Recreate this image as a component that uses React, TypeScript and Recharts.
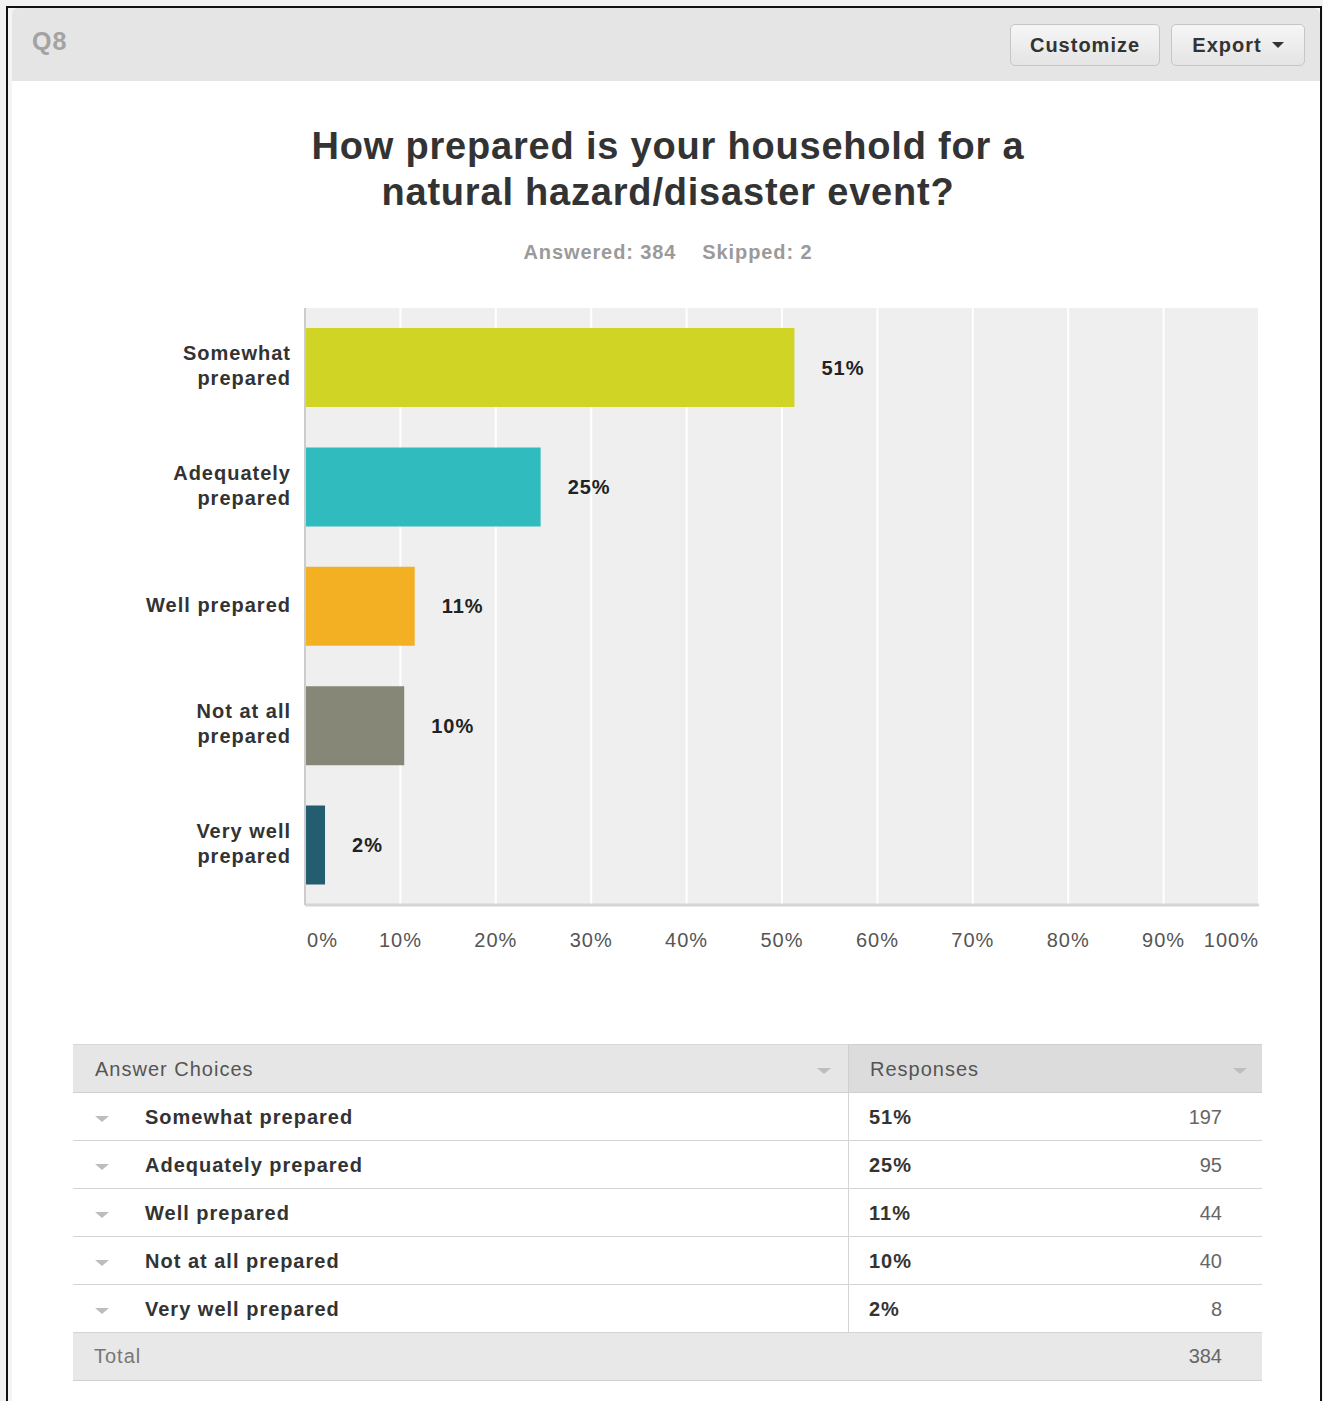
import React from "react";
import {
  BarChart,
  Bar,
  XAxis,
  YAxis,
  CartesianGrid,
  Cell,
  LabelList,
} from "recharts";

// answer choices, top to bottom
const choices = [
  "Somewhat prepared",
  "Adequately prepared",
  "Well prepared",
  "Not at all prepared",
  "Very well prepared",
];
// wrapped labels as shown on the chart axis
const axisLines = [
  ["Somewhat", "prepared"],
  ["Adequately", "prepared"],
  ["Well prepared"],
  ["Not at all", "prepared"],
  ["Very well", "prepared"],
];
const shares = [51.3, 24.7, 11.5, 10.4, 2.1];
const shareLabels = ["51%", "25%", "11%", "10%", "2%"];
const counts = [197, 95, 44, 40, 8];
const barColors = ["#cfd425", "#30bcbf", "#f4b023", "#878778", "#245d6f"];
const xTicks = [0, 10, 20, 30, 40, 50, 60, 70, 80, 90, 100];

const totalAnswered = 384;
const totalSkipped = 2;

const FONT = "Arial, 'Liberation Sans', Helvetica, sans-serif";
const LS = 1;

const chartData = choices.map((name, i) => ({
  name,
  share: shares[i],
  label: shareLabels[i],
}));

function CategoryTick(props: any) {
  const { x, y, payload } = props;
  const idx = choices.indexOf(payload.value);
  const lines = axisLines[idx] || [payload.value];
  const start = -((lines.length - 1) * 25) / 2 - 2;
  return (
    <text
      x={x}
      y={y}
      textAnchor="end"
      fontFamily={FONT}
      fontSize={20}
      fontWeight="bold"
      fill="#333"
      letterSpacing={LS}
    >
      {lines.map((l, i) => (
        <tspan key={i} x={x} y={y + start + i * 25} dy="0.35em">
          {l}
        </tspan>
      ))}
    </text>
  );
}

function PercentTick(props: any) {
  const { x, y, payload } = props;
  const v = payload.value;
  const anchor = v === 0 ? "start" : v === 100 ? "end" : "middle";
  return (
    <text
      x={v === 0 ? x + 2 : x}
      y={y + 42}
      textAnchor={anchor}
      fontFamily={FONT}
      fontSize={20}
      fill="#555"
      letterSpacing={LS}
    >
      {v}%
    </text>
  );
}

function Caret({ x, y }: { x: number; y: number }) {
  return (
    <div
      style={{
        position: "absolute",
        left: x,
        top: y,
        width: 0,
        height: 0,
        borderLeft: "7px solid transparent",
        borderRight: "7px solid transparent",
        borderTop: "6px solid #bdbdbd",
      }}
    />
  );
}

function Button({ left, width, children }: any) {
  return (
    <div
      style={{
        position: "absolute",
        left,
        top: 24,
        width,
        height: 42,
        boxSizing: "border-box",
        border: "1px solid #c6c6c6",
        borderRadius: 5,
        background: "linear-gradient(#f6f6f6, #e4e4e4)",
        fontFamily: FONT,
        fontWeight: "bold",
        fontSize: 20,
        letterSpacing: LS,
        color: "#333",
        display: "flex",
        alignItems: "center",
        justifyContent: "center",
        gap: 10,
      }}
    >
      {children}
    </div>
  );
}

export default function App() {
  const rowTop = 1093;
  const rowH = 48;
  const cell = { position: "absolute" as const, fontSize: 20, letterSpacing: LS };
  return (
    <div
      style={{
        position: "absolute",
        left: 0,
        top: 0,
        width: 1323,
        height: 1401,
        overflow: "hidden",
        background: "#f2f2f2",
        fontFamily: FONT,
      }}
    >
      {/* frame */}
      <div
        style={{
          position: "absolute",
          left: 6,
          top: 6,
          width: 1316,
          height: 1420,
          border: "2px solid #111",
          boxSizing: "border-box",
          background: "#f4f4f4",
        }}
      />
      {/* panel */}
      <div
        style={{
          position: "absolute",
          left: 12,
          top: 8,
          width: 1308,
          height: 1410,
          background: "#fff",
          borderRadius: "6px 6px 0 0",
        }}
      />
      {/* header bar */}
      <div
        style={{
          position: "absolute",
          left: 12,
          top: 8,
          width: 1308,
          height: 73,
          background: "#e5e5e5",
          borderRadius: "6px 6px 0 0",
        }}
      />
      <div
        style={{
          position: "absolute",
          left: 32,
          top: 27,
          fontSize: 25,
          fontWeight: "bold",
          letterSpacing: LS,
          color: "#a3a3a3",
        }}
      >
        Q8
      </div>
      <Button left={1010} width={150}>
        Customize
      </Button>
      <Button left={1171} width={134}>
        <span>Export</span>
        <span
          style={{
            width: 0,
            height: 0,
            borderLeft: "6px solid transparent",
            borderRight: "6px solid transparent",
            borderTop: "6px solid #333",
          }}
        />
      </Button>

      {/* title */}
      <div
        style={{
          position: "absolute",
          left: 12,
          top: 123,
          width: 1312,
          textAlign: "center",
          fontSize: 38,
          fontWeight: "bold",
          letterSpacing: 0.8,
          color: "#333",
          lineHeight: "46px",
        }}
      >
        How prepared is your household for a
        <br />
        natural hazard/disaster event?
      </div>
      <div
        style={{
          position: "absolute",
          left: 12,
          top: 241,
          width: 1312,
          textAlign: "center",
          fontSize: 20,
          fontWeight: "bold",
          letterSpacing: 0.9,
          color: "#9a9a9a",
        }}
      >
        Answered: {totalAnswered}
        <span style={{ display: "inline-block", width: 26 }} />
        Skipped: {totalSkipped}
      </div>

      {/* chart */}
      <div style={{ position: "absolute", left: 0, top: 0 }}>
        <BarChart
          width={1323}
          height={965}
          data={chartData}
          layout="vertical"
          margin={{ top: 308, right: 64, bottom: 0, left: 5 }}
        >
          <CartesianGrid
            horizontal={false}
            stroke="#ffffff"
            strokeWidth={2}
            fill="#efefef"
          />
          <XAxis
            type="number"
            domain={[0, 100]}
            ticks={xTicks}
            height={60}
            tickLine={false}
            tickSize={0}
            tickMargin={0}
            axisLine={{ stroke: "#d5d5d5", strokeWidth: 3 }}
            tick={<PercentTick />}
            interval={0}
          />
          <YAxis
            type="category"
            dataKey="name"
            width={300}
            tickLine={false}
            tickSize={0}
            tickMargin={14}
            axisLine={{ stroke: "#cccccc", strokeWidth: 2 }}
            tick={<CategoryTick />}
            interval={0}
          />
          <Bar dataKey="share" barSize={79} isAnimationActive={false}>
            {chartData.map((d, i) => (
              <Cell key={d.name} fill={barColors[i]} />
            ))}
            <LabelList
              dataKey="label"
              position="right"
              offset={27}
              fill="#222"
              fontFamily={FONT}
              fontSize={20}
              fontWeight="bold"
              letterSpacing={LS}
            />
          </Bar>
        </BarChart>
      </div>

      {/* table */}
      <div
        style={{
          position: "absolute",
          left: 73,
          top: 1044,
          width: 775,
          height: 49,
          background: "#e6e6e6",
          borderTop: "1px solid #d6d6d6",
          borderBottom: "1px solid #cfcfcf",
          boxSizing: "border-box",
        }}
      />
      <div
        style={{
          position: "absolute",
          left: 848,
          top: 1044,
          width: 414,
          height: 49,
          background: "#dcdcdc",
          borderTop: "1px solid #d0d0d0",
          borderLeft: "1px solid #cfcfcf",
          borderBottom: "1px solid #cfcfcf",
          boxSizing: "border-box",
        }}
      />
      <div style={{ ...cell, left: 95, top: 1058, color: "#555" }}>Answer Choices</div>
      <div style={{ ...cell, left: 870, top: 1058, color: "#555" }}>Responses</div>
      <Caret x={817} y={1068} />
      <Caret x={1233} y={1068} />

      {choices.map((c, i) => {
        const top = rowTop + i * rowH;
        return (
          <React.Fragment key={c}>
            <div
              style={{
                position: "absolute",
                left: 73,
                top,
                width: 1189,
                height: rowH,
                borderBottom: "1px solid #d4d4d4",
                boxSizing: "border-box",
              }}
            />
            <div
              style={{
                position: "absolute",
                left: 848,
                top,
                width: 1,
                height: rowH,
                background: "#d4d4d4",
              }}
            />
            <Caret x={95} y={top + 23} />
            <div style={{ ...cell, left: 145, top: top + 13, fontWeight: "bold", color: "#333" }}>
              {c}
            </div>
            <div style={{ ...cell, left: 869, top: top + 13, fontWeight: "bold", color: "#333" }}>
              {shareLabels[i]}
            </div>
            <div
              style={{
                ...cell,
                left: 1022,
                top: top + 13,
                width: 200,
                textAlign: "right",
                color: "#666",
                letterSpacing: 0,
              }}
            >
              {counts[i]}
            </div>
          </React.Fragment>
        );
      })}
      <div
        style={{
          position: "absolute",
          left: 73,
          top: rowTop + 5 * rowH,
          width: 1189,
          height: 48,
          background: "#e8e8e8",
          borderBottom: "1px solid #d0d0d0",
          boxSizing: "border-box",
        }}
      />
      <div style={{ ...cell, left: 94, top: rowTop + 5 * rowH + 12, color: "#777" }}>Total</div>
      <div
        style={{
          ...cell,
          left: 1022,
          top: rowTop + 5 * rowH + 12,
          width: 200,
          textAlign: "right",
          color: "#666",
          letterSpacing: 0,
        }}
      >
        {totalAnswered}
      </div>
    </div>
  );
}
